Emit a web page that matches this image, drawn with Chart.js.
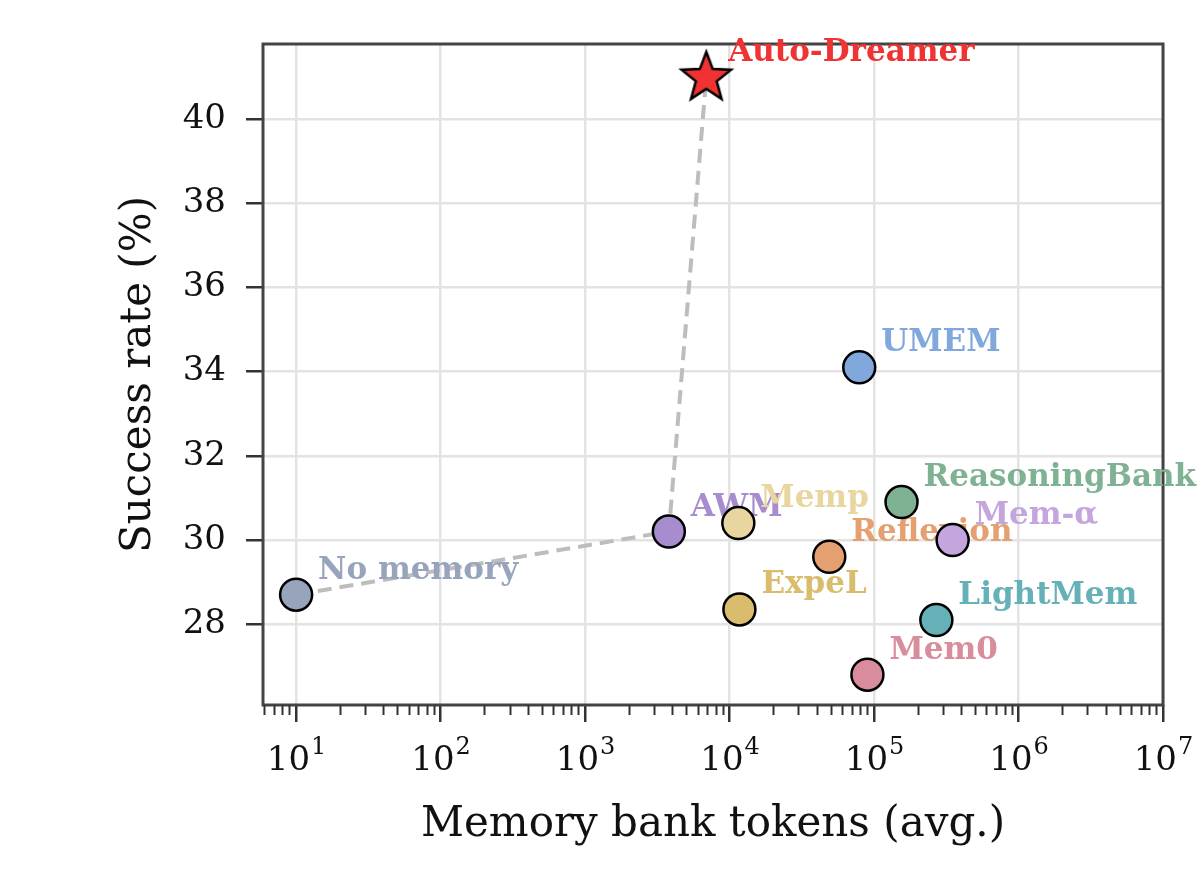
<!DOCTYPE html>
<html>
<head>
<meta charset="utf-8">
<script src="https://cdn.jsdelivr.net/npm/chart.js@4"></script>
<style>
  body { margin: 0; background: #fff; }
</style>
</head>
<body>
<canvas id="myChart" width="1200" height="882"></canvas>
<script>
const methods = ["No memory", "AWM", "Memp", "ExpeL", "Reflexion", "UMEM", "ReasoningBank", "Mem-α", "LightMem", "Mem0", "Auto-Dreamer"];
const tokens = [10, 3800, 11500, 11700, 49000, 79000, 155000, 350000, 270000, 90000, 6900];
const success = [28.7, 30.2, 30.4, 28.35, 29.6, 34.1, 30.9, 30.0, 28.1, 26.8, 41.0];
const colors = ["#97a4bc", "#a78dcd", "#e8d59f", "#d9bd6c", "#e4a070", "#80a8dd", "#7eb293", "#c5a5dd", "#65b1b7", "#d98c9c", "#f03232"];
const frontier = ["No memory", "AWM", "Auto-Dreamer"];
const yTicks = [28, 30, 32, 34, 36, 38, 40];
const xExps = [1, 2, 3, 4, 5, 6, 7];

const serif = '"DejaVu Serif", serif';

// filled star marker (chart.js "star" is only lines)
function makeStar(fill) {
  const c = document.createElement("canvas");
  c.width = 60;
  c.height = 60;
  const g = c.getContext("2d");
  const R = 26, r = 11;
  g.beginPath();
  for (let i = 0; i < 10; i++) {
    const rad = i % 2 == 0 ? R : r;
    const a = -Math.PI / 2 + i * Math.PI / 5;
    const px = 30 + rad * Math.cos(a);
    const py = 31 + rad * Math.sin(a);
    if (i == 0) g.moveTo(px, py);
    else g.lineTo(px, py);
  }
  g.closePath();
  g.fillStyle = fill;
  g.fill();
  g.lineWidth = 2.5;
  g.strokeStyle = "#000";
  g.stroke();
  return c;
}

let datasets = [];
datasets.push({
  label: "frontier",
  data: frontier.map(n => ({ x: tokens[methods.indexOf(n)], y: success[methods.indexOf(n)] })),
  showLine: true,
  borderColor: "#bdbdbd",
  borderWidth: 4,
  borderDash: [14, 8],
  pointRadius: 0,
  order: 100,
});
for (let i = 0; i < methods.length; i++) {
  const isStar = methods[i] == "Auto-Dreamer";
  datasets.push({
    label: methods[i],
    data: [{ x: tokens[i], y: success[i] }],
    pointStyle: isStar ? makeStar(colors[i]) : "circle",
    pointRadius: 16,
    pointBackgroundColor: colors[i],
    pointBorderColor: "#000",
    pointBorderWidth: 2.5,
    textColor: colors[i],
    order: 50 - i,
  });
}

const isPow = v => Math.abs(Math.log10(v) - Math.round(Math.log10(v))) < 1e-9;

const labelPlugin = {
  id: "labels",
  beforeDatasetsDraw(chart) {
    const { ctx, chartArea: a } = chart;
    ctx.save();
    ctx.strokeStyle = "#444";
    ctx.lineWidth = 3;
    ctx.strokeRect(a.left, a.top, a.right - a.left, a.bottom - a.top);
    // minor ticks on the log axis
    const xs = chart.scales.x;
    ctx.strokeStyle = "#333";
    ctx.lineWidth = 2;
    xs.ticks.forEach(t => {
      if (isPow(t.value)) return;
      const px = Math.round(xs.getPixelForValue(t.value)) + 0.5;
      ctx.beginPath();
      ctx.moveTo(px, a.bottom);
      ctx.lineTo(px, a.bottom + 10);
      ctx.stroke();
    });
    // 10^n labels with a raised exponent
    ctx.fillStyle = "#111";
    ctx.textBaseline = "alphabetic";
    xExps.forEach(e => {
      const px = xs.getPixelForValue(Math.pow(10, e));
      ctx.font = "34px " + serif;
      const w1 = ctx.measureText("10").width;
      ctx.font = "24px " + serif;
      const w2 = ctx.measureText(String(e)).width;
      const x0 = px - (w1 + w2) / 2;
      ctx.textAlign = "left";
      ctx.font = "34px " + serif;
      ctx.fillText("10", x0, 770);
      ctx.font = "24px " + serif;
      ctx.fillText(String(e), x0 + w1 + 1, 754);
    });
    ctx.restore();
  },
  afterDatasetDraw(chart, args) {
    const ds = chart.data.datasets[args.index];
    if (ds.label == "frontier") return;
    const pt = args.meta.data[0];
    const ctx = chart.ctx;
    ctx.save();
    ctx.font = "bold 31px " + serif;
    ctx.fillStyle = ds.textColor;
    ctx.textAlign = "left";
    ctx.textBaseline = "alphabetic";
    ctx.fillText(ds.label, pt.x + 22, pt.y - 16);
    ctx.restore();
  },
};

const chart = new Chart(document.getElementById("myChart"), {
  type: "scatter",
  data: { datasets: datasets },
  options: {
    responsive: false,
    animation: false,
    events: [],
    layout: { padding: { left: 0, top: 44, right: 37, bottom: 0 } },
    plugins: { legend: { display: false }, tooltip: { enabled: false } },
    scales: {
      x: {
        type: "logarithmic",
        min: 5.9,
        max: 1e7,
        bounds: "data",
        afterBuildTicks: scale => {
          let t = [];
          for (let e = 0; e <= 7; e++) {
            for (let m = 1; m <= 9; m++) {
              const v = m * Math.pow(10, e);
              if (v >= 5.9 && v <= 1e7) t.push({ value: v });
            }
          }
          scale.ticks = t;
        },
        afterFit: scale => {
          scale.height = 177;
          scale.paddingLeft = 0;
          scale.paddingRight = 0;
        },
        border: { display: false },
        grid: {
          color: c => (c.tick && isPow(c.tick.value) ? "#e3e3e3" : "rgba(0,0,0,0)"),
          lineWidth: 2.5,
          tickLength: 17,
          tickColor: c => (c.tick && isPow(c.tick.value) ? "#333" : "rgba(0,0,0,0)"),
          tickWidth: 2.5,
        },
        ticks: {
          autoSkip: false,
          maxRotation: 0,
          callback: () => "",
        },
        title: {
          display: true,
          text: "Memory bank tokens (avg.)",
          color: "#111",
          font: { family: serif, size: 42 },
          padding: { top: 0, bottom: 32 },
        },
      },
      y: {
        min: 26.08,
        max: 41.78,
        bounds: "data",
        afterBuildTicks: scale => { scale.ticks = yTicks.map(v => ({ value: v })); },
        afterFit: scale => {
          scale.width = 263;
          scale.paddingTop = 0;
          scale.paddingBottom = 0;
        },
        border: { display: false },
        grid: {
          color: "#e3e3e3",
          lineWidth: 2.5,
          tickLength: 17,
          tickColor: "#333",
          tickWidth: 2.5,
        },
        ticks: {
          padding: 20,
          color: "#111",
          font: { family: serif, size: 34 },
          callback: v => String(v),
        },
        title: {
          display: true,
          text: "Success rate (%)",
          color: "#111",
          font: { family: serif, size: 42 },
          padding: { top: 114, bottom: 0 },
        },
      },
    },
  },
  plugins: [labelPlugin],
});
</script>
</body>
</html>
